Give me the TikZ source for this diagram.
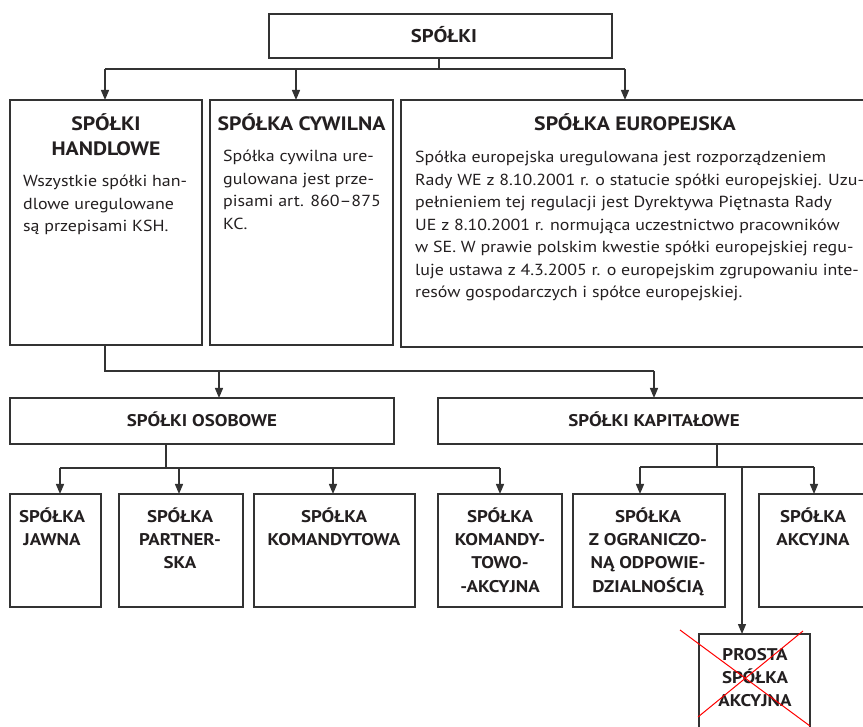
\documentclass[tikz,border=0pt]{standalone}
\usepackage{fontspec}
\setmainfont[FakeStretch=1.12]{PT Sans}
\usetikzlibrary{arrows.meta,fit}
\definecolor{ink}{HTML}{231F20}
\definecolor{linec}{HTML}{333333}
\begin{document}
\begin{tikzpicture}[x=1pt,y=-1pt,
  box/.style={draw=linec,line width=1.3pt,inner sep=0pt,outer sep=0pt},
  conn/.style={draw=linec,line width=1.3pt},
  arr/.style={conn,-{Triangle[width=8pt,length=10pt]}},
  head/.style={inner sep=0pt,anchor=base,align=center,text=ink,font=\fontsize{19.4}{25}\selectfont\bfseries},
  shead/.style={inner sep=0pt,anchor=base,align=center,text=ink,font=\fontsize{16.9}{23.3}\selectfont\bfseries},
  body/.style={inner sep=0pt,anchor=base west,align=left,text=ink,font=\fontsize{16}{22.5}\selectfont},
]
\useasboundingbox (0,0) rectangle (863,727);
% boxes
\node[box,fit={(269,14) (612,58)}] (top) {};
\node[box,fit={(10,100) (202,345)}] (hand) {};
\node[box,fit={(210,100) (393,345)}] (cyw) {};
\node[box,fit={(401,100) (870,347)}] (eur) {};
\node[box,fit={(10,398) (394,444)}] (oso) {};
\node[box,fit={(438,398) (870,444)}] (kap) {};
\node[box,fit={(10,494) (101,607)}] (jaw) {};
\node[box,fit={(119,494) (243,607)}] (par) {};
\node[box,fit={(254,494) (415,607)}] (kom) {};
\node[box,fit={(438,494) (562,607)}] (koma) {};
\node[box,fit={(573,494) (725,607)}] (zoo) {};
\node[box,fit={(759,494) (870,607)}] (akc) {};
\node[box,fit={(699,634) (810,735)}] (psa) {};
% texts (base anchor = baseline of last line)
\node[shead,font=\fontsize{18.5}{23}\selectfont\bfseries] (ttop) at (444,43) {SPÓŁKI};
\node[head] (thand) at (106,156) {SPÓŁKI\\HANDLOWE};
\node[body] (bhand) at (23,232) {Wszystkie spółki han-\\dlowe uregulowane\\są przepisami KSH.};
\node[head] (tcyw) at (301.5,131) {SPÓŁKA CYWILNA};
\node[body] (bcyw) at (223,229.5) {Spółka cywilna ure-\\gulowana jest prze-\\pisami art. 860–875\\KC.};
\node[head] (teur) at (635,131) {SPÓŁKA EUROPEJSKA};
\node[body] (beur) at (415,298) {Spółka europejska uregulowana jest rozporządzeniem\\Rady WE z 8.10.2001 r. o statucie spółki europejskiej. Uzu-\\pełnieniem tej regulacji jest Dyrektywa Piętnasta Rady\\UE z 8.10.2001 r. normująca uczestnictwo pracowników\\w SE. W prawie polskim kwestie spółki europejskiej regu-\\luje ustawa z 4.3.2005 r. o europejskim zgrupowaniu inte-\\resów gospodarczych i spółce europejskiej.};
\node[shead] (toso) at (202,427) {SPÓŁKI OSOBOWE};
\node[shead] (tkap) at (654,427) {SPÓŁKI KAPITAŁOWE};
\node[shead] (tjaw) at (52,545.3) {SPÓŁKA\\JAWNA};
\node[shead] (tpar) at (180,568.6) {SPÓŁKA\\PARTNER-\\SKA};
\node[shead] (tkom) at (334,545.3) {SPÓŁKA\\KOMANDYTOWA};
\node[shead] (tkoma) at (500,592) {SPÓŁKA\\KOMANDY-\\TOWO-\\-AKCYJNA};
\node[shead] (tzoo) at (648,592) {SPÓŁKA\\Z OGRANICZO-\\NĄ ODPOWIE-\\DZIALNOŚCIĄ};
\node[shead] (takc) at (813,545.3) {SPÓŁKA\\AKCYJNA};
\node[shead] (tpsa) at (755,706.6) {PROSTA\\SPÓŁKA\\AKCYJNA};
% junctions
\coordinate (j1) at (439,69);
\coordinate (j1l) at (105,69);
\coordinate (j1m) at (296,69);
\coordinate (j1r) at (625,69);
\coordinate (j2) at (105,371);
\coordinate (j2l) at (219,371);
\coordinate (j2r) at (654,371);
\coordinate (j3) at (166,468);
\coordinate (j3a) at (60,468);
\coordinate (j3b) at (179,468);
\coordinate (j3c) at (333,468);
\coordinate (j3d) at (500,468);
\coordinate (j4) at (717,467);
\coordinate (j4a) at (640,467);
\coordinate (j4b) at (742,467);
\coordinate (j4c) at (814,467);
% connectors
\draw[conn] (top.south -| j1) -- (j1);
\draw[conn] (j1l) -- (j1r);
\draw[arr] (j1l) -- (hand.north -| j1l);
\draw[arr] (j1m) -- (cyw.north -| j1m);
\draw[arr] (j1r) -- (eur.north -| j1r);
\draw[conn] (hand.south -| j2) -- (j2) -- (j2r);
\draw[arr] (j2l) -- (oso.north -| j2l);
\draw[arr] (j2r) -- (kap.north -| j2r);
\draw[conn] (oso.south -| j3) -- (j3);
\draw[conn] (j3a) -- (j3d);
\draw[arr] (j3a) -- (jaw.north -| j3a);
\draw[arr] (j3b) -- (par.north -| j3b);
\draw[arr] (j3c) -- (kom.north -| j3c);
\draw[arr] (j3d) -- (koma.north -| j3d);
\draw[conn] (kap.south -| j4) -- (j4);
\draw[conn] (j4a) -- (j4c);
\draw[arr] (j4a) -- (zoo.north -| j4a);
\draw[arr] (j4c) -- (akc.north -| j4c);
\draw[arr] (j4b) -- (psa.north -| j4b);
% red cross
\coordinate (c1) at (680,630);
\coordinate (c2) at (810,726);
\coordinate (c3) at (803,631);
\coordinate (c4) at (698,717);
\draw[red,line width=1pt] (c1) -- (c2);
\draw[red,line width=1pt] (c3) -- (c4);
\end{tikzpicture}
\end{document}
